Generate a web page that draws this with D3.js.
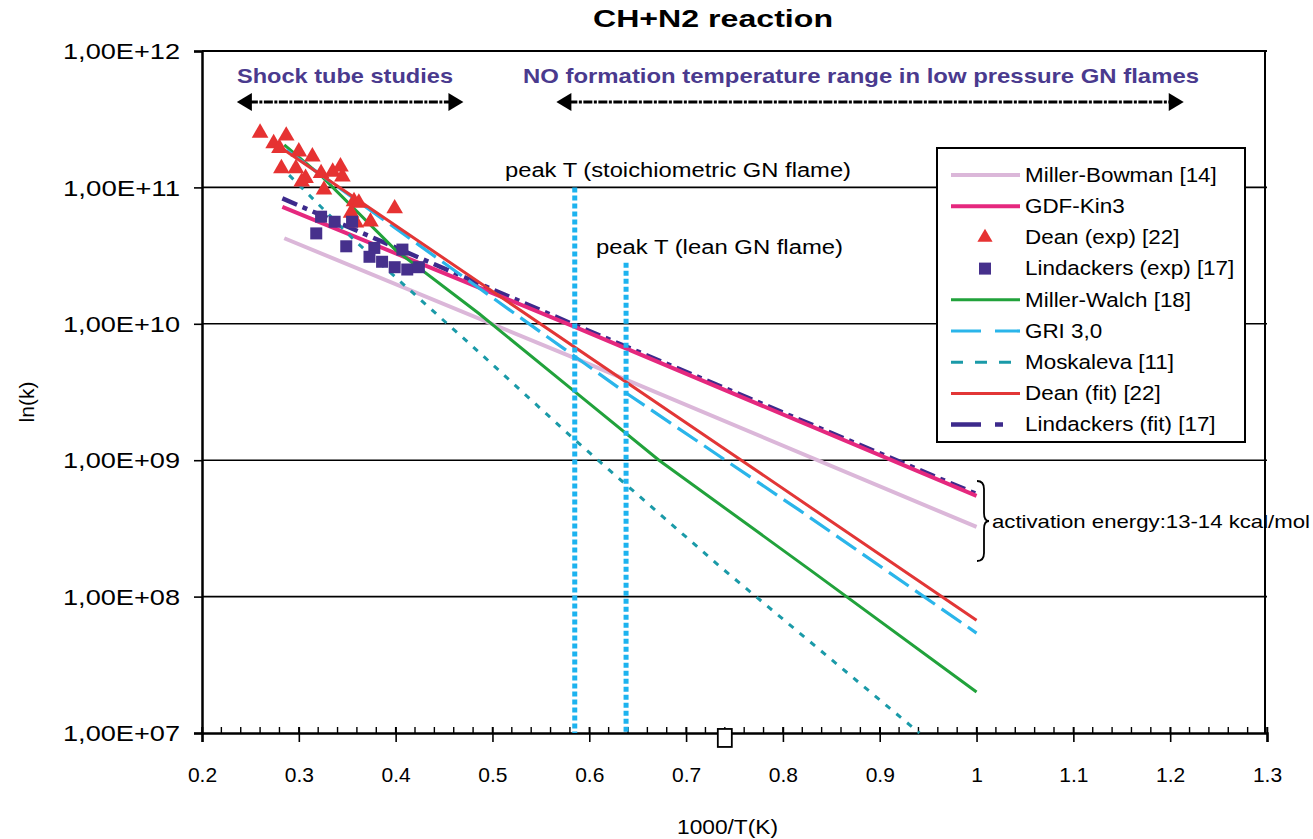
<!DOCTYPE html>
<html><head><meta charset="utf-8">
<script src="https://cdn.jsdelivr.net/npm/d3@7"></script>
<style>
body{margin:0;background:#fff}
text{font-family:Arial,"Liberation Sans",sans-serif;fill:#000}
</style>
</head><body>
<svg id="c" width="1313" height="839"></svg>
<script>
// ---------- data ----------
const xTickValues = [0.2,0.3,0.4,0.5,0.6,0.7,0.8,0.9,1.0,1.1,1.2,1.3];
const xTickLabels = ["0.2","0.3","0.4","0.5","0.6","0.7","0.8","0.9","1","1.1","1.2","1.3"];
const yTickValues = [1e7,1e8,1e9,1e10,1e11,1e12];
const yTickLabels = ["1,00E+07","1,00E+08","1,00E+09","1,00E+10","1,00E+11","1,00E+12"];

const legendNames = ["Miller-Bowman [14]","GDF-Kin3","Dean (exp) [22]","Lindackers (exp) [17]",
  "Miller-Walch [18]","GRI 3,0","Moskaleva [11]","Dean (fit) [22]","Lindackers (fit) [17]"];

// model curves: [1000/T, k]
const millerBowman = [[0.285,4.24e10],[0.585,5.6e9],[1.0,3.24e8]];
const gdfKin3      = [[0.283,7.2e10],[0.585,9.5e9],[1.0,5.47e8]];
const lindackersFit= [[0.283,8.3e10],[0.585,9.8e9],[1.0,5.65e8]];
const millerWalch  = [[0.285,2.05e11],[0.324,1.20e11],[0.400,3.47e10],[0.486,1.19e10],[0.585,3.18e9],[0.672,1.0e9],[0.828,1.57e8],[1.0,2.0e7]];
const gri30        = [[0.287,1.88e11],[0.486,1.83e10],[0.636,3.18e9],[0.817,4.3e8],[1.0,5.4e7]];
const moskaleva    = [[0.290,1.23e11],[0.359,4.0e10],[0.486,6.2e9],[0.585,1.41e9],[0.735,1.66e8],[0.941,1.0e7]];
const deanFit      = [[0.285,1.88e11],[0.757,1.0e9],[1.0,6.7e7]];

// experiments
const deanExpX = [0.260,0.287,0.274,0.280,0.300,0.314,0.282,0.297,0.307,0.323,0.335,0.343,0.345,0.326,0.303,0.357,0.362,0.354,0.374,0.399,0.359];
const deanExpK = [2.51e11,2.39e11,2.10e11,1.94e11,1.83e11,1.68e11,1.38e11,1.38e11,1.17e11,1.27e11,1.30e11,1.42e11,1.20e11,9.6e10,1.10e11,7.9e10,7.7e10,6.5e10,5.6e10,7.0e10,5.5e10];
const lindExpX = [0.323,0.337,0.355,0.318,0.349,0.378,0.373,0.407,0.386,0.399,0.412,0.424];
const lindExpK = [6.1e10,5.6e10,5.6e10,4.6e10,3.7e10,3.6e10,3.1e10,3.5e10,2.85e10,2.6e10,2.5e10,2.6e10];

// annotations
const peakStoichX = 0.585, peakLeanX = 0.638;
const peakStoichTop = 1e11, peakLeanTop = 2.8e10;
const shockRange = [0.236, 0.470];
const noRange = [0.566, 1.214];
const strayMarker = [0.74, 9.2e6];

// ---------- layout ----------
const svg = d3.select("#c");
const L = 202, R = 1267, T = 51, B = 733;
const x = d3.scaleLinear().domain([0.2,1.3]).range([L,R]);
const y = d3.scaleLog().domain([1e7,1e12]).range([B,T]);

// gridlines
svg.append("g").selectAll("line").data(yTickValues.slice(1)).join("line")
  .attr("x1",L).attr("x2",R).attr("y1",d=>y(d)).attr("y2",d=>y(d))
  .attr("stroke","#000").attr("stroke-width",1.6);

// y axis
const yAxis = d3.axisLeft(y).tickValues(yTickValues).tickSize(8)
  .tickFormat((d,i)=>yTickLabels[i]);
const gy = svg.append("g").attr("transform",`translate(${L},0)`).call(yAxis);
gy.select(".domain").attr("stroke-width",2.5);
gy.selectAll(".tick line").attr("stroke-width",1.6);
gy.selectAll(".tick text").attr("font-size",22).attr("x",-22).attr("dy","0.35em")
  .attr("textLength",117).attr("lengthAdjust","spacingAndGlyphs")
  .style("font-family","Arial,'Liberation Sans',sans-serif");

// x axis minor ticks (inside)
const minor = d3.range(0.2,1.3001,0.02);
svg.append("g").selectAll("line").data(minor).join("line")
  .attr("x1",d=>x(d)).attr("x2",d=>x(d)).attr("y1",B).attr("y2",B-6)
  .attr("stroke","#000").attr("stroke-width",1.4);
const xAxis = d3.axisBottom(x).tickValues(xTickValues).tickSize(9)
  .tickFormat((d,i)=>xTickLabels[i]);
const gx = svg.append("g").attr("transform",`translate(0,${B})`).call(xAxis);
gx.select(".domain").attr("stroke-width",2.5);
gx.selectAll(".tick line").attr("stroke-width",1.6).attr("y1",-6);
gx.selectAll(".tick text").attr("font-size",21).attr("y",34)
  .style("font-family","Arial,'Liberation Sans',sans-serif");

// top frame
svg.append("line").attr("x1",L).attr("x2",R).attr("y1",T).attr("y2",T).attr("stroke","#000").attr("stroke-width",2);

// curves
const line = d3.line().x(d=>x(d[0])).y(d=>y(d[1]));
function curve(data,color,w,dash){
  svg.append("path").datum(data).attr("d",line).attr("fill","none")
    .attr("stroke",color).attr("stroke-width",w).attr("stroke-dasharray",dash||null);
}
curve(lindackersFit,"#3d2a8c",4.5,"16,6,5,6");
curve(millerBowman,"#dbb7d9",4);
curve(gdfKin3,"#e5287e",4);
curve(millerWalch,"#21a23b",3);
curve(gri30,"#2ab5ea",3.2,"24,8");
curve(moskaleva,"#1a9aa8",3,"6,8");
curve(deanFit,"#e23636",3);

// experiments
svg.append("g").selectAll("path").data(deanExpX).join("path")
  .attr("d",d3.symbol().type(d3.symbolTriangle).size(120))
  .attr("transform",(d,i)=>`translate(${x(d)},${y(deanExpK[i])})`)
  .attr("fill","#e63232");
svg.append("g").selectAll("rect").data(lindExpX).join("rect")
  .attr("x",d=>x(d)-6).attr("y",(d,i)=>y(lindExpK[i])-6).attr("width",12).attr("height",12)
  .attr("fill","#46308c");

// peak T vertical lines
svg.append("line").attr("x1",x(peakStoichX)).attr("x2",x(peakStoichX))
  .attr("y1",y(peakStoichTop)).attr("y2",B).attr("stroke","#1db3ef").attr("stroke-width",5).attr("stroke-dasharray","5,3");
svg.append("line").attr("x1",x(peakLeanX)).attr("x2",x(peakLeanX))
  .attr("y1",y(peakLeanTop)).attr("y2",B).attr("stroke","#1db3ef").attr("stroke-width",5).attr("stroke-dasharray","5,3");
svg.append("text").attr("x",505).attr("y",177).attr("font-size",20)
  .attr("textLength",346).attr("lengthAdjust","spacingAndGlyphs")
  .text("peak T (stoichiometric GN flame)");
svg.append("text").attr("x",596).attr("y",254).attr("font-size",20)
  .attr("textLength",247).attr("lengthAdjust","spacingAndGlyphs")
  .text("peak T (lean GN flame)");

// stray marker on axis
svg.append("rect").attr("x",x(strayMarker[0])-7).attr("y",y(strayMarker[1])-9).attr("width",14).attr("height",18)
  .attr("fill","#fff").attr("stroke","#000").attr("stroke-width",1.8);

// range arrows
function rangeArrow(r,yy){
  const x1=x(r[0]), x2=x(r[1]);
  svg.append("line").attr("x1",x1+12).attr("x2",x2-12).attr("y1",yy).attr("y2",yy)
    .attr("stroke","#000").attr("stroke-width",3).attr("stroke-dasharray","9,1.5,3,1.5");
  svg.append("path").attr("d",`M${x1},${yy}L${x1+15},${yy-9}L${x1+15},${yy+9}Z`).attr("fill","#000");
  svg.append("path").attr("d",`M${x2},${yy}L${x2-15},${yy-9}L${x2-15},${yy+9}Z`).attr("fill","#000");
}
rangeArrow(shockRange,102);
rangeArrow(noRange,102);
svg.append("text").attr("x",237).attr("y",83).attr("font-size",21).attr("font-weight","bold")
  .attr("textLength",216).attr("lengthAdjust","spacingAndGlyphs").style("fill","#4a3a8e")
  .text("Shock tube studies");
svg.append("text").attr("x",523).attr("y",83).attr("font-size",21).attr("font-weight","bold")
  .attr("textLength",676).attr("lengthAdjust","spacingAndGlyphs").style("fill","#4a3a8e")
  .text("NO formation temperature range in low pressure GN flames");

// brace + activation energy
const bx = 977, bt = 481, bb = 561, bm = 521;
svg.append("path").attr("d",
  `M${bx},${bt} Q${bx+7},${bt} ${bx+7},${bt+8} L${bx+7},${bm-8} Q${bx+7},${bm} ${bx+12},${bm} Q${bx+7},${bm} ${bx+7},${bm+8} L${bx+7},${bb-8} Q${bx+7},${bb} ${bx},${bb}`)
  .attr("fill","none").attr("stroke","#000").attr("stroke-width",1.8);
svg.append("text").attr("x",992).attr("y",528).attr("font-size",19)
  .attr("textLength",318).attr("lengthAdjust","spacingAndGlyphs")
  .text("activation energy:13-14 kcal/mol");

// legend
const lg = svg.append("g");
lg.append("rect").attr("x",937).attr("y",148).attr("width",308).attr("height",294)
  .attr("fill","#fff").attr("stroke","#000").attr("stroke-width",2);
const legendStyle = [
  {type:"line",c:"#dbb7d9",w:4},
  {type:"line",c:"#e5287e",w:4},
  {type:"tri",c:"#e63232"},
  {type:"sq",c:"#46308c"},
  {type:"line",c:"#21a23b",w:3},
  {type:"line",c:"#2ab5ea",w:3.2,d:"30,14"},
  {type:"line",c:"#1a9aa8",w:3,d:"12,12"},
  {type:"line",c:"#e23636",w:3},
  {type:"line",c:"#3d2a8c",w:4.5,d:"30,14,8,17"}
];
legendNames.forEach((n,i)=>{
  const yy = 175 + i*31.2;
  const s = legendStyle[i];
  if(s.type==="line"){
    lg.append("line").attr("x1",951).attr("x2",1020).attr("y1",yy).attr("y2",yy)
      .attr("stroke",s.c).attr("stroke-width",s.w).attr("stroke-dasharray",s.d||null);
  } else if(s.type==="tri"){
    lg.append("path").attr("d",d3.symbol().type(d3.symbolTriangle).size(100))
      .attr("transform",`translate(985,${yy})`).attr("fill",s.c);
  } else {
    lg.append("rect").attr("x",979).attr("y",yy-6).attr("width",12).attr("height",12).attr("fill",s.c);
  }
  lg.append("text").attr("transform",`translate(1025,${yy}) scale(1.15,1)`).attr("dy","0.35em")
    .attr("font-size",19.5).text(n);
});

// right frame drawn last
svg.append("line").attr("x1",1265).attr("x2",1265).attr("y1",T).attr("y2",B).attr("stroke","#000").attr("stroke-width",2);

// titles
svg.append("text").attr("x",593).attr("y",27).attr("font-size",23)
  .attr("textLength",240).attr("lengthAdjust","spacingAndGlyphs")
  .attr("font-weight","bold").text("CH+N2 reaction");
svg.append("text").attr("transform","translate(34,402) rotate(-90)").attr("text-anchor","middle")
  .attr("font-size",21).text("ln(k)");
svg.append("text").attr("x",677).attr("y",834).attr("font-size",21)
  .attr("textLength",101).attr("lengthAdjust","spacingAndGlyphs")
  .text("1000/T(K)");
</script>
</body></html>
